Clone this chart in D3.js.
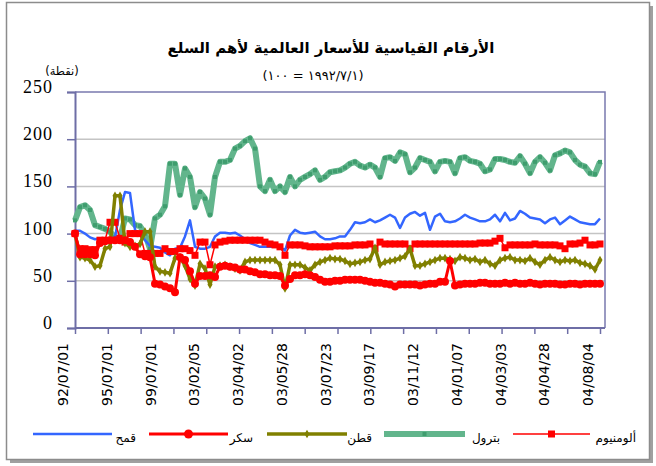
<!DOCTYPE html>
<html>
<head>
<meta charset="utf-8">
<script src="https://cdn.jsdelivr.net/npm/d3@7"></script>
<style>
  body { margin: 0; background: #fff; }
  svg { display: block; }
</style>
</head>
<body>
<svg width="656" height="466"></svg>
<script>
// tick labels of the category axis (one every 4 units, ticks every 3)
const dateLabels = ["92/07/01", "95/07/01", "99/07/01", "03/02/05", "03/04/02", "03/05/28", "03/07/23",
  "03/09/17", "03/11/12", "04/01/07", "04/03/03", "04/04/28", "04/08/04"];
const yTicks = [0, 50, 100, 150, 200, 250];

// index values (1992/7/1 = 100)
const aluminium = [100,84,84,83,83,93,93,112,112,95,
  91,100,100,100,79,79,79,79,84,81,
  81,84,84,82,77,91,91,67,88,91,
  92,93,93,93,93,93,93,93,91,89,
  88,86,77,88,88,88,87,86,86,86,
  86,86,87,87,87,87,88,88,88,89,
  84,91,89,89,89,89,89,84,89,89,
  89,89,89,89,89,89,89,89,89,89,
  89,90,90,90,92,95,85,88,88,88,
  88,88,89,88,88,88,88,87,84,89,
  89,90,93,88,88,89];

const petroleum = [114,128,130,125,109,107,105,102,96,95,
  116,115,109,108,100,84,116,120,129,174,
  174,141,169,160,128,144,137,120,160,176,
  176,178,190,193,198,201,190,150,145,157,
  145,150,144,160,150,157,160,163,167,157,
  160,165,166,167,170,174,176,172,170,173,
  170,160,180,181,177,186,184,165,170,180,
  178,176,166,176,177,176,164,180,181,177,
  176,174,166,168,179,179,178,176,175,182,
  174,164,176,181,175,167,183,185,188,186,
  178,173,171,164,163,176];

const cotton = [100,75,74,72,65,66,84,86,140,140,
  90,86,87,89,102,102,65,60,59,58,
  74,75,66,52,45,68,63,46,65,66,
  67,65,63,61,70,72,72,72,72,72,
  72,67,42,67,67,67,64,61,67,70,
  72,74,73,73,71,68,69,70,72,73,
  85,67,70,71,72,74,76,84,66,66,
  68,70,72,74,74,73,71,75,74,72,
  73,70,72,68,66,72,74,75,72,72,
  71,74,70,67,72,75,72,70,72,71,
  72,69,68,66,62,72];

const sugar = [100,78,78,78,77,90,92,93,93,93,
  93,91,86,78,76,75,47,46,44,42,
  38,75,72,60,47,55,55,56,54,65,
  66,65,64,62,62,60,59,57,57,56,
  56,55,45,52,56,56,57,56,54,51,
  49,49,50,50,51,51,51,51,50,49,
  48,48,47,46,44,46,46,46,46,45,
  46,47,47,49,49,71,45,46,47,47,
  47,48,48,47,47,47,48,47,48,47,
  47,48,47,46,47,47,47,46,46,47,
  47,46,47,47,47,47];

const wheat = [103,103,100,96,94,95,95,95,96,125,
  144,143,104,99,93,87,86,85,80,77,
  84,85,97,114,86,84,84,86,97,101,
  101,100,101,98,94,90,88,86,86,86,
  86,86,82,98,104,101,100,101,102,97,
  94,94,95,97,97,104,112,111,112,115,
  112,114,117,120,117,106,117,121,123,119,
  122,104,118,121,113,112,113,116,120,117,
  115,113,113,115,120,113,122,114,116,124,
  121,117,116,115,111,115,117,110,114,118,
  115,112,111,110,110,116];

const seriesNames = ["ألومنيوم", "بترول", "قطن", "سكر", "قمح"];

const svg = d3.select("svg");
const margin = { top: 92, right: 51, bottom: 138, left: 75 };
const W = 656 - margin.left - margin.right;
const H = 466 - margin.top - margin.bottom;

// outer chart frame with a shadow
svg.append("rect").attr("x", 10).attr("y", 6).attr("width", 643).attr("height", 457).attr("fill", "#a0a0a0");
svg.append("rect").attr("x", 6.5).attr("y", 2.5).attr("width", 643).attr("height", 457)
  .attr("fill", "#fff").attr("stroke", "#8c8c8c").attr("stroke-width", 1.5);

const g = svg.append("g").attr("transform", `translate(${margin.left},${margin.top})`);

const y = d3.scaleLinear().domain([0, 250]).range([H, 0]);
const xData = d3.scaleLinear().domain([0, wheat.length - 1]).range([0, 525]);
const xCat = d3.scaleLinear().domain([0, 48]).range([0, 525]);

// gridlines
g.append("g").selectAll("line").data(yTicks.filter(d => d > 0 && d < 250)).join("line")
  .attr("x1", 0).attr("x2", W).attr("y1", d => y(d)).attr("y2", d => y(d))
  .attr("stroke", "#c4c4c4").attr("stroke-width", 1.5);

// plot frame (top, right)
g.append("path").attr("d", `M0,0H${W}V${H}`).attr("fill", "none").attr("stroke", "#7a7aae").attr("stroke-width", 1.5);

const axisColor = "#6e6ea6";

// y axis
const yAxis = g.append("g").call(d3.axisLeft(y).tickValues(yTicks).tickSize(8).tickFormat(""));
yAxis.select(".domain").attr("stroke", axisColor).attr("stroke-width", 2);
yAxis.selectAll(".tick line").attr("stroke", axisColor).attr("stroke-width", 1.5);
g.append("g").selectAll("text").data(yTicks).join("text")
  .attr("x", -22).attr("y", d => y(d) + 1)
  .attr("text-anchor", "end")
  .attr("font-family", "Liberation Serif, serif").attr("font-size", 18).attr("letter-spacing", 1)
  .attr("fill", "#000")
  .text(d => d);

// x axis
const xAxis = g.append("g").attr("transform", `translate(0,${H})`)
  .call(d3.axisBottom(xCat).tickValues(d3.range(0, 49, 3)).tickSize(6).tickFormat(""));
xAxis.select(".domain").attr("stroke", axisColor).attr("stroke-width", 2).attr("d", `M0,0H${W}`);
xAxis.selectAll(".tick line").attr("stroke", axisColor).attr("stroke-width", 1.5);
g.append("g").selectAll("text").data(dateLabels).join("text")
  .attr("transform", (d, i) => `translate(${xCat(i * 4) - 12},${H + 15}) rotate(-90)`)
  .attr("text-anchor", "end").attr("dominant-baseline", "central")
  .attr("font-family", "DejaVu Sans, sans-serif").attr("font-size", 14)
  .attr("fill", "#000")
  .text(d => d);

// series
const line = d3.line().x((d, i) => xData(i)).y(d => y(d));
const plot = g.append("g");

function drawLine(data, color, width) {
  plot.append("path").datum(data).attr("d", line)
    .attr("fill", "none").attr("stroke", color).attr("stroke-width", width)
    .attr("stroke-linejoin", "round");
}

// petroleum: thick green with small dark squares
drawLine(petroleum, "#62b58c", 6);
plot.append("g").selectAll("rect").data(petroleum).join("rect")
  .attr("x", (d, i) => xData(i) - 2).attr("y", d => y(d) - 2)
  .attr("width", 4).attr("height", 4).attr("fill", "#3f9d6e");

// wheat: plain blue
drawLine(wheat, "#3366ff", 2.5);

// aluminium: thin red with squares
drawLine(aluminium, "#ff0000", 1.5);
plot.append("g").selectAll("rect").data(aluminium).join("rect")
  .attr("x", (d, i) => xData(i) - 3.5).attr("y", d => y(d) - 3.5)
  .attr("width", 7).attr("height", 7).attr("fill", "#ff0000");

// cotton: olive with diamonds
drawLine(cotton, "#808000", 3.5);
plot.append("g").selectAll("path").data(cotton).join("path")
  .attr("d", d3.symbol(d3.symbolDiamond, 22))
  .attr("transform", (d, i) => `translate(${xData(i)},${y(d)})`)
  .attr("fill", "#808000");

// sugar: red with round markers
drawLine(sugar, "#ff0000", 3);
plot.append("g").selectAll("circle").data(sugar).join("circle")
  .attr("cx", (d, i) => xData(i)).attr("cy", d => y(d)).attr("r", 4)
  .attr("fill", "#ff0000");

// titles
svg.append("text").attr("x", 331).attr("y", 53).attr("text-anchor", "middle")
  .attr("font-family", "DejaVu Sans, sans-serif").attr("font-weight", "bold").attr("font-size", 15)
  .text("الأرقام القياسية للأسعار العالمية لأهم السلع");
svg.append("text").attr("x", 313).attr("y", 80).attr("text-anchor", "middle")
  .attr("direction", "ltr").style("unicode-bidi", "bidi-override")
  .attr("font-family", "DejaVu Sans, sans-serif").attr("font-size", 13)
  .text("(١٠٠ = ١٩٩٢/٧/١)");
svg.append("text").attr("x", 62).attr("y", 75).attr("text-anchor", "middle")
  .attr("font-family", "DejaVu Sans, sans-serif").attr("font-size", 11.5)
  .text("(نقطة)");

// legend
const legendItems = [
  { name: seriesNames[4], x1: 33, x2: 112, tx: 136, color: "#3366ff", w: 2.5, marker: null },
  { name: seriesNames[3], x1: 149, x2: 228, tx: 253, color: "#ff0000", w: 3, marker: "circle" },
  { name: seriesNames[2], x1: 267, x2: 347, tx: 372, color: "#808000", w: 3.5, marker: "diamond" },
  { name: seriesNames[1], x1: 384, x2: 465, tx: 500, color: "#62b58c", w: 6, marker: "sq-small" },
  { name: seriesNames[0], x1: 513, x2: 590, tx: 636, color: "#ff0000", w: 1.5, marker: "square" }
];
const leg = svg.append("g").attr("transform", "translate(0,434)");
legendItems.forEach(it => {
  leg.append("line").attr("x1", it.x1).attr("x2", it.x2).attr("y1", 0).attr("y2", 0)
    .attr("stroke", it.color).attr("stroke-width", it.w);
  const mx = (it.x1 + it.x2) / 2;
  if (it.marker === "circle") leg.append("circle").attr("cx", mx).attr("cy", 0).attr("r", 4.5).attr("fill", it.color);
  if (it.marker === "diamond") leg.append("path").attr("d", d3.symbol(d3.symbolDiamond, 22)).attr("transform", `translate(${mx},0)`).attr("fill", it.color);
  if (it.marker === "sq-small") leg.append("rect").attr("x", mx - 2).attr("y", -2).attr("width", 4).attr("height", 4).attr("fill", "#3f9d6e");
  if (it.marker === "square") leg.append("rect").attr("x", mx - 3.5).attr("y", -3.5).attr("width", 7).attr("height", 7).attr("fill", it.color);
  leg.append("text").attr("x", it.tx).attr("y", 8).attr("text-anchor", "end")
    .attr("font-family", "DejaVu Sans, sans-serif").attr("font-size", 12)
    .text(it.name);
});
</script>
</body>
</html>
